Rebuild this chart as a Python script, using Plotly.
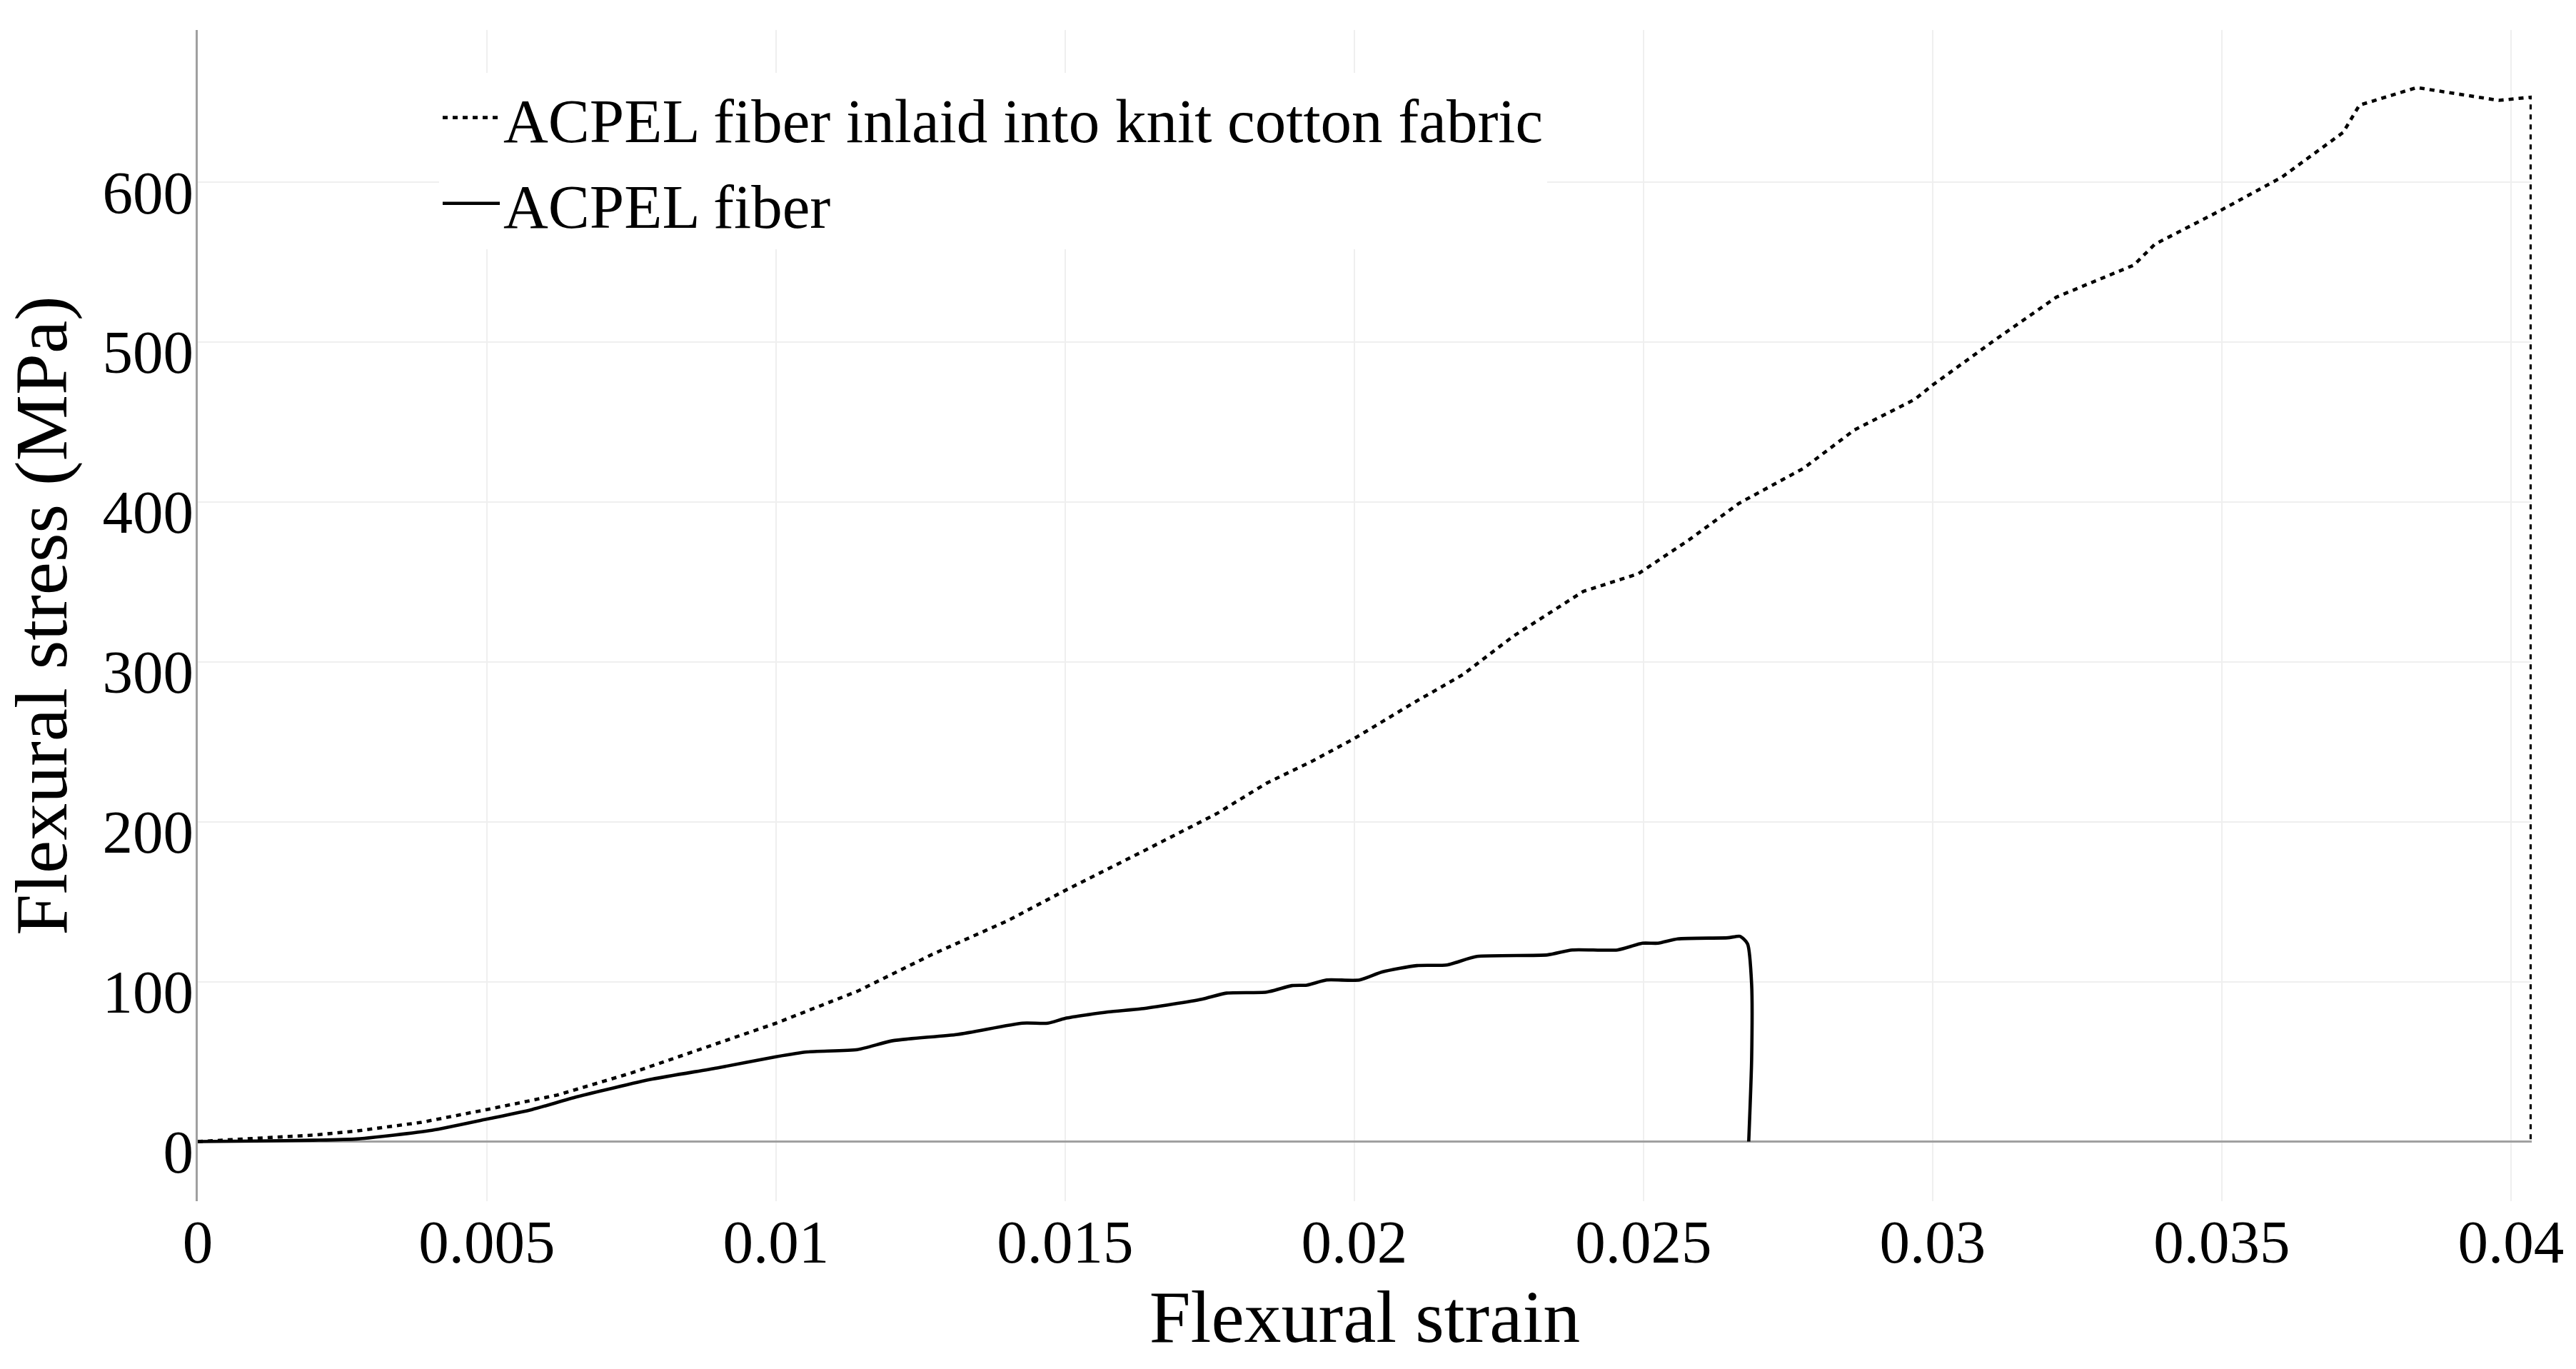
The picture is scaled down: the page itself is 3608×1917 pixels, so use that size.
import plotly.graph_objects as go

# ACPEL fiber inlaid into knit cotton fabric (dotted)
fabric_strain = [0, 0.001, 0.002, 0.00275, 0.00387, 0.005, 0.00621, 0.00751, 0.00881, 0.01,
                 0.01141, 0.0127, 0.014, 0.015, 0.01632, 0.01762, 0.01848, 0.01928, 0.02,
                 0.02101, 0.02188, 0.02275, 0.02396, 0.02491, 0.02578, 0.02665, 0.02777,
                 0.02865, 0.02969, 0.03, 0.03107, 0.03214, 0.03348, 0.03384, 0.03497,
                 0.03604, 0.0371, 0.03738, 0.03837, 0.03922, 0.03979, 0.04035, 0.04035]
fabric_stress = [0, 2, 4, 6.6, 12, 20, 29, 43, 59, 74,
                 94, 117, 138, 157, 181, 205, 224, 238, 252,
                 274, 292, 316, 344, 355, 376, 399, 421,
                 445, 464, 473, 501, 528, 548, 561, 582,
                 603, 631, 648, 659, 654, 651, 653, 0]

# ACPEL fiber (solid)
fiber_strain = [0, 0.001, 0.002, 0.00275, 0.00405, 0.005, 0.00578, 0.00656, 0.00786, 0.00898,
                0.01, 0.01054, 0.01141, 0.01201, 0.01314, 0.01426, 0.0147, 0.015, 0.01574,
                0.01632, 0.01736, 0.01779, 0.01848, 0.01892, 0.01918, 0.01952, 0.02009,
                0.02048, 0.02108, 0.0216, 0.02212, 0.02334, 0.02377, 0.02455, 0.02498,
                0.02525, 0.02559, 0.02646, 0.02667, 0.0268, 0.02687, 0.02687, 0.02682]
fiber_stress = [0, 0.3, 0.8, 1.6, 7, 14, 20, 28, 39, 46,
                53, 56, 57.5, 63, 67, 74, 74, 77, 81,
                83, 89, 92.8, 93.4, 97.5, 97.8, 101, 101,
                106, 110, 110.4, 115.7, 116.7, 119.8, 119.8, 124,
                124, 126.7, 127.4, 128.3, 123.6, 98.4, 51, 0]

x_ticks = [0, 0.005, 0.01, 0.015, 0.02, 0.025, 0.03, 0.035, 0.04]
x_ticktext = ["0", "0.005", "0.01", "0.015", "0.02", "0.025", "0.03", "0.035", "0.04"]
y_ticks = [0, 100, 200, 300, 400, 500, 600]

FONT = "Liberation Serif"

fig = go.Figure()
fig.add_trace(go.Scatter(
    x=fabric_strain, y=fabric_stress, mode="lines",
    name="ACPEL fiber inlaid into knit cotton fabric",
    legendgroup="fabric",
    line=dict(color="black", width=4.6, dash="7px,7px"),
))
fig.add_trace(go.Scatter(
    x=fiber_strain, y=fiber_stress, mode="lines",
    name="ACPEL fiber",
    legendgroup="fiber",
    line=dict(color="black", width=4.6, shape="spline", smoothing=0.6),
))

fig.update_layout(
    width=3608, height=1917,
    autosize=False,
    margin=dict(l=277, r=62, t=42, b=235, pad=0),
    paper_bgcolor="white", plot_bgcolor="white",
    font=dict(family=FONT, color="black", size=85),
    showlegend=True,
    legend=dict(
        x=0.1034, y=0.9637, xanchor="left", yanchor="top",
        bgcolor="white", borderwidth=0,
        font=dict(family=FONT, size=87, color="black"),
        itemwidth=80, tracegroupgap=4,
    ),
    xaxis=dict(
        range=[0, 0.04036],
        tickvals=x_ticks, ticktext=x_ticktext,
        showgrid=True, gridcolor="#efefef", gridwidth=2,
        zeroline=False, showline=False, ticks="", ticklen=0,
        tickfont=dict(family=FONT, size=85, color="black"),
        title=dict(text="Flexural strain", font=dict(family=FONT, size=104, color="black"), standoff=20),
    ),
    yaxis=dict(
        range=[-37.3, 695],
        tickvals=y_ticks,
        showgrid=True, gridcolor="#efefef", gridwidth=2,
        zeroline=True, zerolinecolor="#a0a0a0", zerolinewidth=3,
        showline=True, linecolor="#a0a0a0", linewidth=3,
        ticks="", ticklen=0, ticklabelstandoff=-14, ticklabelshift=14,
        tickfont=dict(family=FONT, size=85, color="black"),
        title=dict(text="Flexural stress (MPa)", font=dict(family=FONT, size=104, color="black"), standoff=34),
    ),
)

fig.write_html(
    "out.html",
    config={"displayModeBar": False},
    post_script="document.body.style.margin='0';document.body.style.overflow='hidden';",
)
